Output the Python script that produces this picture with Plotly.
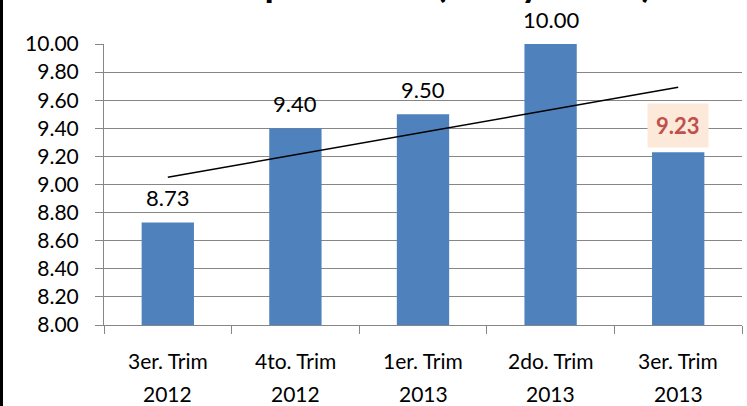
import numpy as np
import plotly.graph_objects as go

# ---- data ----
line1 = ["3er. Trim", "4to. Trim", "1er. Trim", "2do. Trim", "3er. Trim"]
line2 = ["2012", "2012", "2013", "2013", "2013"]
values = [8.73, 9.40, 9.50, 10.00, 9.23]
title_text = "Calificación promedio (días y horas)"

categories = [f"{a} {b}" for a, b in zip(line1, line2)]

# linear trendline (least squares) from the data
idx = np.arange(len(values))
slope, intercept = np.polyfit(idx, values, 1)
trend = slope * idx + intercept

W, H = 747, 406
ML, MR, MT, MB = 104, 5, 44, 81
PW, PH = W - ML - MR, H - MT - MB

BAR = "#4F81BD"
GRID = "#868686"
FONT = "Lato, 'Open Sans', sans-serif"

fig = go.Figure()
fig.add_trace(go.Bar(x=categories, y=values, marker=dict(color=BAR, line=dict(width=0)),
                     showlegend=False, hoverinfo="skip"))
fig.add_trace(go.Scatter(x=categories, y=trend, mode="lines",
                         line=dict(color="black", width=1.5), showlegend=False,
                         hoverinfo="skip"))

annotations = []
# data labels
for i, (c, v) in enumerate(zip(categories, values)):
    last = i == len(values) - 1
    annotations.append(dict(
        x=c, y=v, xref="x", yref="y", text=f"<b>{v:.2f}</b>" if last else f"{v:.2f}",
        showarrow=False, yanchor="middle", yshift=27 if last else 25,
        font=dict(family=FONT, size=22,
                  color="#C0504D" if last else "black"),
        bgcolor="#FDE9D9" if last else None, borderpad=8 if last else 0,
    ))
# category labels (two lines)
for c, a, b in zip(categories, line1, line2):
    annotations.append(dict(x=c, y=0, xref="x", yref="paper", text=a, showarrow=False,
                            yanchor="middle", yshift=-35,
                            font=dict(family=FONT, size=21, color="black")))
    annotations.append(dict(x=c, y=0, xref="x", yref="paper", text=b, showarrow=False,
                            yanchor="middle", yshift=-68,
                            font=dict(family=FONT, size=21, color="black")))
# title (largely cut off at the top of the picture)
annotations.append(dict(x=(654 - ML) / PW, y=1 + (MT - 7) / PH, xref="paper", yref="paper",
                        text=f"<b>{title_text}</b>", showarrow=False,
                        xanchor="right", yanchor="bottom",
                        font=dict(family=FONT, size=38, color="black")))

fig.update_layout(
    width=W, height=H,
    margin=dict(l=ML, r=MR, t=MT, b=MB, pad=0),
    paper_bgcolor="white", plot_bgcolor="white",
    bargap=0.59,
    annotations=annotations,
    shapes=[dict(type="line", xref="paper", yref="paper",
                 x0=(1.5 - ML) / PW, x1=(1.5 - ML) / PW,
                 y0=1 + MT / PH, y1=-MB / PH,
                 line=dict(color="black", width=3))],
    xaxis=dict(type="category", showticklabels=False, tickson="boundaries",
               ticks="outside", ticklen=8, tickcolor=GRID, tickwidth=1,
               showline=True, linecolor=GRID, linewidth=1, showgrid=False,
               zeroline=False, fixedrange=True),
    yaxis=dict(range=[8, 10], dtick=0.2, tick0=8, tickformat=".2f",
               ticks="outside", ticklen=8, tickcolor=GRID, tickwidth=1,
               showline=True, linecolor=GRID, linewidth=1,
               showgrid=True, gridcolor=GRID, gridwidth=1, zeroline=False,
               ticklabelstandoff=12,
               tickfont=dict(family=FONT, size=21, color="black"), fixedrange=True),
)

fig.write_html("out.html", config={"displayModeBar": False},
               post_script="document.body.style.margin='0px';document.body.style.overflow='hidden';")
